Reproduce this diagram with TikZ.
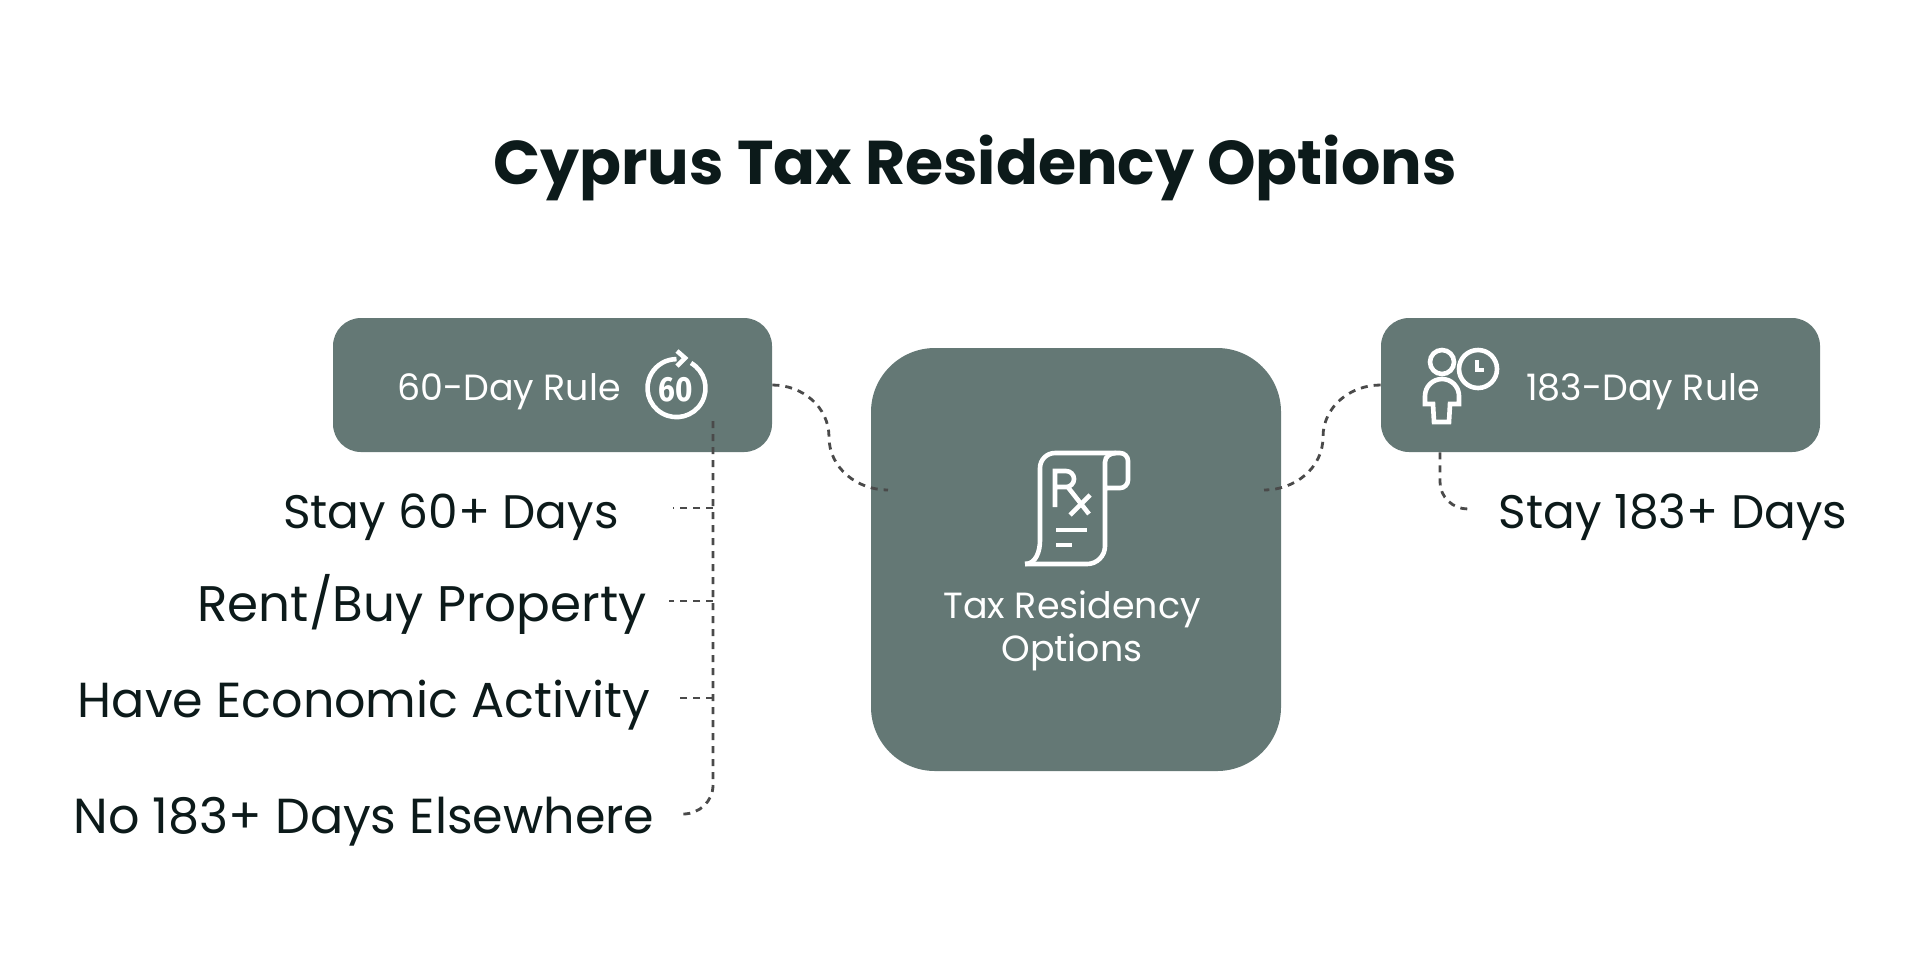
\documentclass[tikz,border=0pt]{standalone}
\usepackage{fontspec}
\setmainfont{Poppins}
\newfontfamily\titlefont{Poppins}[BoldFont=* Bold]
\newfontfamily\digitfont{Fira Sans}[FakeStretch=0.85]
\definecolor{boxgreen}{HTML}{647875}
\definecolor{inkdark}{HTML}{0C1A1A}
\definecolor{dashgrey}{HTML}{4A4A4A}
\tikzset{
  rulebox/.style={fill=boxgreen,rounded corners=14pt,minimum width=219.5pt,minimum height=67pt,inner sep=0pt},
  hubbox/.style={fill=boxgreen,rounded corners=32pt,minimum width=205pt,minimum height=211.5pt,inner sep=0pt},
  boxtext/.style={text=white,inner sep=0pt,font=\fontsize{18.2}{21.5}\selectfont,align=center},
  itemtext/.style={text=inkdark,inner sep=0pt,font=\fontsize{24.6}{28}\selectfont},
  stayitem/.style={text=inkdark,inner sep=0pt,font=\fontsize{23.5}{28}\selectfont},
  dashline/.style={draw=dashgrey,line width=1.4pt,dash pattern=on 3.5pt off 3pt},
  iconline/.style={draw=white,line width=2.3pt}
}
\usetikzlibrary{calc}
\begin{document}
\begin{tikzpicture}[x=0.5pt,y=-0.5pt]
            \useasboundingbox (0,0) rectangle (1920,960);

            % title
            \node[text=inkdark,inner sep=0pt,font=\titlefont\bfseries\fontsize{30.9}{36}\selectfont] (title) at (975,168) {Cyprus Tax Residency Options};

            % boxes
            \node[rulebox] (sixty) at (552.5,385) {};
            \node[rulebox] (oneeighty) at (1600.5,385) {};
            \node[hubbox] (hub) at (1076,559.5) {};

            % box texts
            \node[boxtext] (sixtytext) at (509,392) {60-Day Rule};
            \node[boxtext] (oneeightytext) at (1643,392) {183-Day Rule};
            \node[boxtext] (hubtext) at (1072,631) {Tax Residency\\Options};

            % item texts
            \node[stayitem] (staysixty) at (451,517) {Stay 60+ Days};
            \node[itemtext,font=\fontsize{25}{28}\selectfont] (rentbuy) at (422,604) {Rent/Buy Property};
            \node[itemtext] (economic) at (364,705) {Have Economic Activity};
            \node[itemtext] (elsewhere) at (364,822) {No 183+ Days Elsewhere};
            \node[stayitem] (stayoneeighty) at (1673,517) {Stay 183+ Days};

            % ends of the connectors
            \coordinate (hubleft) at (888,490);
            \coordinate (hubright) at (1264,490);
            \coordinate (bendleft) at (829,437);
            \coordinate (bendright) at (1323,437);
            \coordinate (trunktop) at (713,421);
            \coordinate (trunkbend) at (713,785);
            \coordinate (trunkend) at (683,814);
            \coordinate (branchone) at (713,508);
            \coordinate (branchtwo) at (713,601);
            \coordinate (branchthree) at (713,698);
            \coordinate (dropbend) at (1440,482);
            \coordinate (dropend) at (1468,509);

            % connectors between boxes
            \draw[dashline] (sixty.east) to[out=0,in=90] (bendleft) to[out=-90,in=180] (hubleft);
            \draw[dashline] (oneeighty.west) to[out=180,in=90] (bendright) to[out=-90,in=0] (hubright);

            % connectors to the items
            \draw[dashline] (trunktop) -- (trunkbend) to[out=-90,in=0] (trunkend);
            \draw[dashline] (branchone) -- ++(-40,0);
            \draw[dashline] (branchtwo) -- ++(-44,0);
            \draw[dashline] (branchthree) -- ++(-37,0);
            \draw[dashline] (oneeighty.south west -| dropbend) -- (dropbend) to[out=-90,in=180] (dropend);

            % icon 60
            \draw[iconline] (691,363) arc[start angle=-60,end angle=270,radius=29];
            \draw[iconline] (677,351) -- (685,358) -- (677,366);
            \node[text=white,inner sep=0pt,font=\digitfont\bfseries\fontsize{17.5}{17.5}\selectfont] (sixtyicon) at (676,390) {60};

            % icon person and clock
            \draw[iconline] (1442,362) circle[radius=12];
            \draw[iconline] (1478,369) circle[radius=19];
            \draw[iconline] (1477,360) -- (1477,370) -- (1484,370);
            \draw[iconline] (1425,404) -- (1425,396) arc[start angle=180,end angle=360,radius=17] -- (1459,404) -- (1450,404) -- (1449,422) -- (1434,422) -- (1433,404) -- cycle;

            % icon scroll
            \draw[iconline] (1025,564) -- (1087,564) to[out=0,in=-90] (1105,546) -- (1105,462) to[out=90,in=180] (1116,453) -- (1120,453) to[out=0,in=90] (1128,461) -- (1128,480) to[out=-90,in=0] (1120,488) -- (1106,488);
            \draw[iconline] (1116,453) -- (1055,453) to[out=180,in=90] (1040,468) -- (1040,540) to[out=-90,in=0] (1025,564);
            \draw[iconline] (1055,507) -- (1055,471) -- (1066,471) arc[start angle=-90,end angle=90,radius=8] -- (1055,487);
            \draw[iconline] (1067,486) -- (1089,514);
            \draw[iconline] (1070,515) -- (1090,495);
            \draw[iconline] (1056,530) -- (1087,530);
            \draw[iconline] (1056,545) -- (1072,545);
\end{tikzpicture}
\end{document}
